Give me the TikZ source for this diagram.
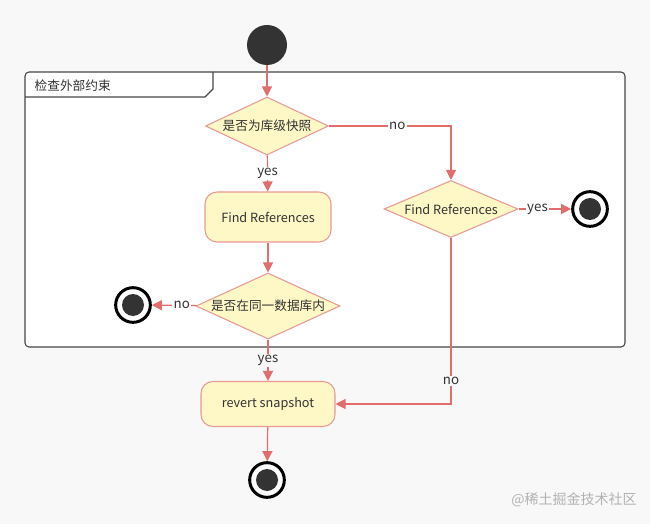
\documentclass[tikz,border=0pt]{standalone}
\usepackage{fontspec}
\setmainfont{Noto Sans CJK SC}
\usetikzlibrary{arrows.meta,shapes.geometric,positioning}
\definecolor{bgpage}{HTML}{F8F8F8}
\definecolor{flow}{HTML}{E26D6D}
\definecolor{nodeline}{HTML}{E99A96}
\definecolor{nodefill}{HTML}{FEF7C6}
\definecolor{ink}{HTML}{333333}

\begin{document}
\begin{tikzpicture}[x=0.75pt,y=-0.75pt,font=\fontsize{9.5}{11}\selectfont,text=ink,
  act/.style={draw=nodeline,fill=nodefill,rounded corners=9pt,line width=0.8pt,inner sep=0pt},
  choice/.style={diamond,draw=nodeline,fill=nodefill,line width=0.8pt,inner sep=0pt,aspect=2.1},
  startdot/.style={circle,fill=ink,minimum size=30pt,inner sep=0pt},
  stopdot/.style={circle,draw=black,line width=2.25pt,fill=white,minimum size=26pt,inner sep=0pt,
    path picture={\fill[ink] (path picture bounding box.center) circle (8.25pt);}},
  flowarrow/.style={flow,line width=0.9pt,-{Triangle[length=7.5pt,width=7.5pt]}},
  guard/.style={fill=white,inner sep=1pt,text=ink,font=\fontsize{10}{11}\selectfont}]
\fill[bgpage] (0,0) rectangle (650,524);
% outer frame with its tab
\draw[fill=white,draw=ink!90,line width=0.8pt,rounded corners=3pt] (25,72) rectangle (625,347);
\draw[ink!90,line width=0.8pt] (25,97)--(205,97)--(213,89)--(213,72);
\node[anchor=west] (frametitle) at (30,86) {检查外部约束};
% nodes
\node[startdot] (start) at (267,45) {};
\node[choice,minimum width=92.25pt,minimum height=43.5pt] (isdb) at (267,126) {是否为库级快照};
\node[act,minimum width=94.5pt,minimum height=37.5pt] (findref) at (268,217) {Find References};
\node[choice,minimum width=108pt,minimum height=43.5pt] (samedb) at (268,306) {是否在同一数据库内};
\node[stopdot] (stopleft) at (133,305) {};
\node[choice,minimum width=100.5pt,minimum height=42.75pt] (findtbl) at (451,209) {Find References};
\node[stopdot] (stopright) at (590,209) {};
\node[act,minimum width=100.5pt,minimum height=33.75pt] (revert) at (268,404) {revert snapshot};
\node[stopdot] (stopend) at (267,480) {};
% connectors
\draw[flowarrow] (start)--(isdb);
\draw[flowarrow] (isdb)--(findref) node[guard,midway]{yes};
\draw[flowarrow] (findref)--(samedb);
\draw[flowarrow] (samedb)--(stopleft) node[guard,pos=0.33]{no};
\draw[flowarrow] (samedb)--(revert) node[guard,fill=bgpage,midway]{yes};
\draw[flowarrow] (isdb.east)-|(findtbl.north) node[guard,pos=0.28]{no};
\draw[flowarrow] (findtbl.east)--(stopright) node[guard,pos=0.36]{yes};
\draw[flowarrow] (findtbl.south)|-(revert.east) node[guard,fill=bgpage,pos=0.43]{no};
\draw[flowarrow] (revert)--(stopend);
\node[text=gray!60,font=\fontsize{10.5}{11}\selectfont] (mark) at (574,500) {@稀土掘金技术社区};
\end{tikzpicture}
\end{document}
